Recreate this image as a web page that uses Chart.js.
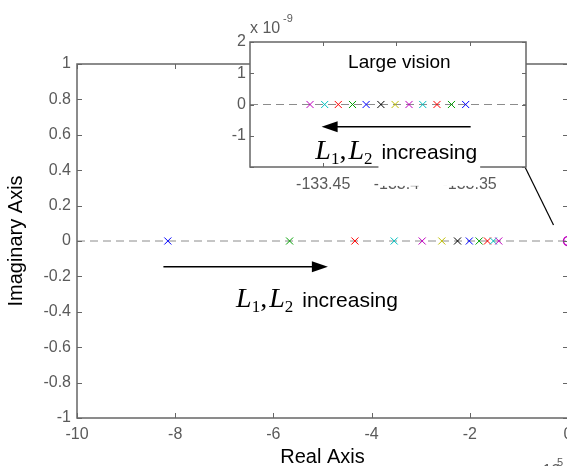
<!DOCTYPE html>
<html>
<head>
<meta charset="utf-8">
<script src="https://cdn.jsdelivr.net/npm/chart.js@4.4.1/dist/chart.umd.min.js"></script>
<style>
  html, body { margin: 0; padding: 0; background: #fff; overflow: hidden; }
  #wrap { position: relative; width: 567px; height: 466px; overflow: hidden; }
  #main { position: absolute; left: 0; top: 0; }
  #zoom { position: absolute; left: 200px; top: 10px; }
</style>
</head>
<body>
<div id="wrap">
  <canvas id="main" width="600" height="480"></canvas>
  <canvas id="zoom" width="340" height="200"></canvas>
</div>
<script>
// closed-loop poles on the real axis (x 10^5), ordered by increasing L1, L2
var poleRe = [-8.15, -5.67, -4.34, -3.54, -2.97, -2.57, -2.25, -2.01, -1.81, -1.64, -1.52, -1.41];
var poleIm = [0, 0, 0, 0, 0, 0, 0, 0, 0, 0, 0, 0];
var poleColors = ['#0000ff', '#00a000', '#ff0000', '#00bfbf', '#bf00bf', '#bfbf00',
                  '#000000', '#0000ff', '#00a000', '#ff0000', '#00bfbf', '#bf00bf'];
// open-loop pole at the origin
var originRe = [0];
var originIm = [0];
// close-up of the slow pole branch (imag part x 10^-9), same L order
var zoomRe = [-133.3527, -133.3624, -133.3723, -133.3820, -133.3914, -133.4009,
              -133.4106, -133.4207, -133.4300, -133.4397, -133.4490, -133.4590];
var zoomIm = [0, 0, 0, 0, 0, 0, 0, 0, 0, 0, 0, 0];

var xTicks = [-10, -8, -6, -4, -2, 0];
var yTicks = [1, 0.8, 0.6, 0.4, 0.2, 0, -0.2, -0.4, -0.6, -0.8, -1];
var zoomXTicks = [-133.45, -133.4, -133.35];
var zoomYTicks = [2, 1, 0, -1, -2];
var zoomYLabels = ['2', '1', '0', '-1', ''];

var sans = '"Liberation Sans", Arial, sans-serif';
var serif = '"Liberation Serif", "Times New Roman", serif';
var axisColor = '#666666';
var tickColor = '#5a5a5a';

function pts(xs, ys) {
  return xs.map(function (x, i) { return { x: x, y: ys[i] }; });
}

// box around the axes with MATLAB style inward ticks
function drawFrame(chart, len) {
  var ctx = chart.ctx, a = chart.chartArea;
  var xs = chart.scales.x, ys = chart.scales.y;
  ctx.save();
  ctx.strokeStyle = axisColor;
  ctx.lineWidth = 1.5;
  ctx.strokeRect(a.left, a.top, a.right - a.left, a.bottom - a.top);
  ctx.lineWidth = 1;
  ctx.beginPath();
  xs.ticks.forEach(function (t) {
    var p = Math.round(xs.getPixelForValue(t.value)) + 0.5;
    ctx.moveTo(p, a.bottom); ctx.lineTo(p, a.bottom - len);
    ctx.moveTo(p, a.top); ctx.lineTo(p, a.top + len);
  });
  ys.ticks.forEach(function (t) {
    var p = Math.round(ys.getPixelForValue(t.value)) + 0.5;
    ctx.moveTo(a.left, p); ctx.lineTo(a.left + len, p);
    ctx.moveTo(a.right, p); ctx.lineTo(a.right - len, p);
  });
  ctx.stroke();
  ctx.restore();
}

function drawArrow(ctx, x0, y0, x1, y1) {
  var dir = x1 > x0 ? 1 : -1;
  ctx.save();
  ctx.strokeStyle = '#000';
  ctx.fillStyle = '#000';
  ctx.lineWidth = 1.5;
  ctx.beginPath();
  ctx.moveTo(x0, y0);
  ctx.lineTo(x1 - dir * 14, y0);
  ctx.stroke();
  ctx.beginPath();
  ctx.moveTo(x1, y0);
  ctx.lineTo(x1 - dir * 16, y0 - 5.5);
  ctx.lineTo(x1 - dir * 16, y0 + 5.5);
  ctx.closePath();
  ctx.fill();
  ctx.restore();
}

// "L1, L2 increasing" with italic L and subscripts
function drawGainLabel(ctx, x, y, opts) {
  ctx.save();
  ctx.fillStyle = '#000';
  ctx.textBaseline = 'alphabetic';
  ctx.textAlign = 'left';
  var it = 'italic ' + opts.big + 'px ' + serif;
  var sub = opts.sub + 'px ' + serif;
  var up = opts.big + 'px ' + serif;
  var parts = [['L', it, 0], ['1', sub, 5], [',', up, 0], ['L', it, 0], ['2', sub, 5]];
  var cx = x;
  parts.forEach(function (p) {
    ctx.font = p[1];
    ctx.fillText(p[0], cx, y + p[2]);
    cx += ctx.measureText(p[0]).width + (p[0] === ',' ? 2 : 0);
  });
  cx += opts.gap;
  ctx.font = opts.word + 'px ' + sans;
  var w = ctx.measureText('increasing').width;
  if (opts.whiteBox) {
    ctx.fillStyle = '#fff';
    ctx.fillRect(cx - 3, y - opts.word, w + 6, opts.word + opts.whiteBox);
    ctx.fillStyle = '#000';
  }
  ctx.fillText('increasing', cx, y);
  ctx.restore();
}

// annotation anchors in data units
var mainArrow = { x0: -8.24, x1: -4.89, y: -0.145 };
var mainLabel = { x: -6.76, y: -0.373 };
var linkLine = { x0: -0.876, y0: 0.418, x1: -0.295, y1: 0.09 };
var zoomArrow = { x0: -133.3493, x1: -133.4511, y: -0.71 };
var zoomLabel = { x: -133.4554, y: -1.74 };
var zoomTitle = { x: -133.398, y: 1.33 };

var mainDecor = {
  id: 'mainDecor',
  afterDatasetsDraw: function (chart) { drawFrame(chart, 5); },
  afterDraw: function (chart) {
    var ctx = chart.ctx, xs = chart.scales.x, ys = chart.scales.y;
    drawArrow(ctx, xs.getPixelForValue(mainArrow.x0), ys.getPixelForValue(mainArrow.y),
              xs.getPixelForValue(mainArrow.x1), ys.getPixelForValue(mainArrow.y));
    drawGainLabel(ctx, xs.getPixelForValue(mainLabel.x), ys.getPixelForValue(mainLabel.y),
                  { big: 28, sub: 17, word: 21, gap: 9 });
    ctx.save();
    ctx.strokeStyle = '#000';
    ctx.lineWidth = 1.2;
    ctx.beginPath();
    ctx.moveTo(xs.getPixelForValue(linkLine.x0), ys.getPixelForValue(linkLine.y0));
    ctx.lineTo(xs.getPixelForValue(linkLine.x1), ys.getPixelForValue(linkLine.y1));
    ctx.stroke();
    // axis exponent
    ctx.fillStyle = tickColor;
    ctx.font = '16px ' + sans;
    ctx.fillText('x 10', 530, 476);
    ctx.font = '11px ' + sans;
    ctx.fillText('5', 557, 466);
    ctx.restore();
  }
};

var zoomDecor = {
  id: 'zoomDecor',
  beforeDraw: function (chart) {
    var a = chart.chartArea, ctx = chart.ctx;
    ctx.save();
    ctx.fillStyle = '#fff';
    ctx.fillRect(a.left, a.top, a.right - a.left, a.bottom - a.top);
    ctx.restore();
  },
  afterDatasetsDraw: function (chart) { drawFrame(chart, 4); },
  afterDraw: function (chart) {
    var ctx = chart.ctx, xs = chart.scales.x, ys = chart.scales.y;
    ctx.save();
    ctx.fillStyle = '#000';
    ctx.font = '19px ' + sans;
    ctx.textAlign = 'center';
    ctx.textBaseline = 'middle';
    ctx.fillText('Large vision', xs.getPixelForValue(zoomTitle.x), ys.getPixelForValue(zoomTitle.y));
    ctx.textAlign = 'left';
    ctx.textBaseline = 'alphabetic';
    ctx.fillStyle = tickColor;
    ctx.font = '16px ' + sans;
    ctx.fillText('x 10', 50, 23);
    ctx.font = '11px ' + sans;
    ctx.fillText('-9', 83, 12);
    ctx.restore();
    drawArrow(ctx, xs.getPixelForValue(zoomArrow.x0), ys.getPixelForValue(zoomArrow.y),
              xs.getPixelForValue(zoomArrow.x1), ys.getPixelForValue(zoomArrow.y));
    drawGainLabel(ctx, xs.getPixelForValue(zoomLabel.x), ys.getPixelForValue(zoomLabel.y),
                  { big: 28, sub: 17, word: 21, gap: 9, whiteBox: 27 });
  }
};

function tickFont() { return { family: sans, size: 16 }; }

new Chart(document.getElementById('main'), {
  type: 'scatter',
  data: {
    datasets: [
      { data: pts(poleRe, poleIm), pointStyle: 'crossRot', pointRadius: 5, pointBorderWidth: 1,
        pointBorderColor: poleColors, pointBackgroundColor: poleColors },
      { data: pts(originRe, originIm), pointStyle: 'circle', pointRadius: 4.5, pointBorderWidth: 1.5,
        pointBorderColor: '#bf00bf', pointBackgroundColor: 'rgba(0,0,0,0)' },
      { data: [{ x: -10, y: 0 }, { x: 0, y: 0 }], showLine: true, borderColor: '#8c8c8c',
        borderWidth: 1, borderDash: [8, 5], pointRadius: 0 }
    ]
  },
  options: {
    responsive: false,
    animation: false,
    devicePixelRatio: 1,
    layout: { padding: { left: 0, right: 32, top: 64, bottom: 0 } },
    plugins: { legend: { display: false }, tooltip: { enabled: false } },
    scales: {
      x: {
        type: 'linear', min: -10, max: 0,
        afterFit: function (s) { s.height = 62; },
        afterBuildTicks: function (s) { s.ticks = xTicks.map(function (v) { return { value: v }; }); },
        grid: { display: false, drawTicks: false },
        border: { display: false },
        ticks: { padding: 7, color: tickColor, font: tickFont(), maxRotation: 0, autoSkip: false,
                 callback: function (v) { return String(v); } },
        title: { display: true, text: 'Real Axis', color: '#000', font: { family: sans, size: 20 },
                 padding: { top: 0, bottom: 11 } }
      },
      y: {
        type: 'linear', min: -1, max: 1,
        afterFit: function (s) { s.width = 77; },
        afterBuildTicks: function (s) { s.ticks = yTicks.map(function (v) { return { value: v }; }); },
        grid: { display: false, drawTicks: false },
        border: { display: false },
        ticks: { padding: 6, color: tickColor, font: tickFont(), autoSkip: false,
                 callback: function (v) { return String(+v.toFixed(1)); } },
        title: { display: true, text: 'Imaginary Axis', color: '#000', font: { family: sans, size: 20 },
                 padding: { top: 4, bottom: 0 } }
      }
    }
  },
  plugins: [mainDecor]
});

new Chart(document.getElementById('zoom'), {
  type: 'scatter',
  data: {
    datasets: [
      { data: pts(zoomRe, zoomIm), pointStyle: 'crossRot', pointRadius: 5, pointBorderWidth: 1,
        pointBorderColor: poleColors, pointBackgroundColor: poleColors },
      { data: [{ x: -133.5, y: 0 }, { x: -133.3115, y: 0 }], showLine: true, borderColor: '#8c8c8c',
        borderWidth: 1, borderDash: [8, 5], pointRadius: 0 }
    ]
  },
  options: {
    responsive: false,
    animation: false,
    devicePixelRatio: 1,
    layout: { padding: { left: 0, right: 14, top: 32, bottom: 0 } },
    plugins: { legend: { display: false }, tooltip: { enabled: false } },
    scales: {
      x: {
        type: 'linear', min: -133.5, max: -133.3115,
        afterFit: function (s) { s.height = 43; },
        afterBuildTicks: function (s) { s.ticks = zoomXTicks.map(function (v) { return { value: v }; }); },
        grid: { display: false, drawTicks: false },
        border: { display: false },
        ticks: { padding: 8, color: tickColor, font: tickFont(), maxRotation: 0, autoSkip: false,
                 callback: function (v) { return String(+v.toFixed(2)); } }
      },
      y: {
        type: 'linear', min: -2, max: 2,
        afterFit: function (s) { s.width = 50; },
        afterBuildTicks: function (s) { s.ticks = zoomYTicks.map(function (v) { return { value: v }; }); },
        grid: { display: false, drawTicks: false },
        border: { display: false },
        ticks: { padding: 4, color: tickColor, font: tickFont(), autoSkip: false,
                 callback: function (v, i) { return zoomYLabels[i]; } }
      }
    }
  },
  plugins: [zoomDecor]
});
</script>
</body>
</html>
